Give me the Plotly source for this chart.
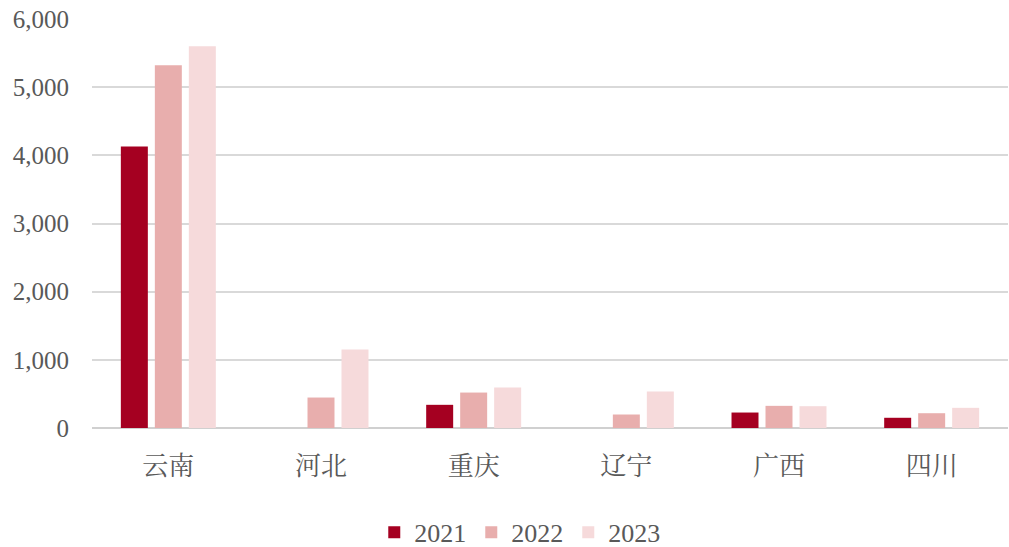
import plotly.graph_objects as go

categories = ["云南", "河北", "重庆", "辽宁", "广西", "四川"]
years = ["2021", "2022", "2023"]
v2021 = [4130, None, 340, None, 227, 150]
v2022 = [5320, 447, 520, 198, 325, 217]
v2023 = [5600, 1150, 593, 535, 320, 296]
colors = ["#A50021", "#E8AEAD", "#F6DADB"]

fig = go.Figure()
for name, vals, c in zip(years, [v2021, v2022, v2023], colors):
    fig.add_trace(go.Bar(name=name, x=categories, y=vals, marker=dict(color=c, line=dict(width=0))))

fig.update_layout(
    width=1009, height=547,
    margin=dict(l=92, r=1, t=19, b=118.5, autoexpand=False),
    paper_bgcolor="white", plot_bgcolor="white",
    barmode="group", bargap=0.332, bargroupgap=0.206,
    font=dict(family="Liberation Serif, serif", color="#595959", size=25),
    legend=dict(orientation="h", x=0.467, xanchor="center", y=-0.255, yanchor="middle",
                font=dict(size=26, family="Liberation Serif, serif", color="#595959"),
                itemwidth=30, traceorder="normal"),
    xaxis=dict(showgrid=False, showline=False, ticks="", ticklabelstandoff=20, automargin=False,
               tickfont=dict(family="Noto Serif CJK SC, Noto Sans CJK SC", size=26, color="#595959")),
    yaxis=dict(range=[0, 6000], dtick=1000, tickformat=",d", showgrid=True, automargin=False,
               gridcolor="#D9D9D9", gridwidth=1.5, zeroline=True, zerolinecolor="#D0D0D0",
               zerolinewidth=2, ticklabelstandoff=22,
               tickfont=dict(family="Liberation Serif, serif", size=25, color="#595959")),
)
fig.write_html("out.html", config={"displayModeBar": False},
               post_script="document.body.style.margin='0';document.body.style.overflow='hidden';")
